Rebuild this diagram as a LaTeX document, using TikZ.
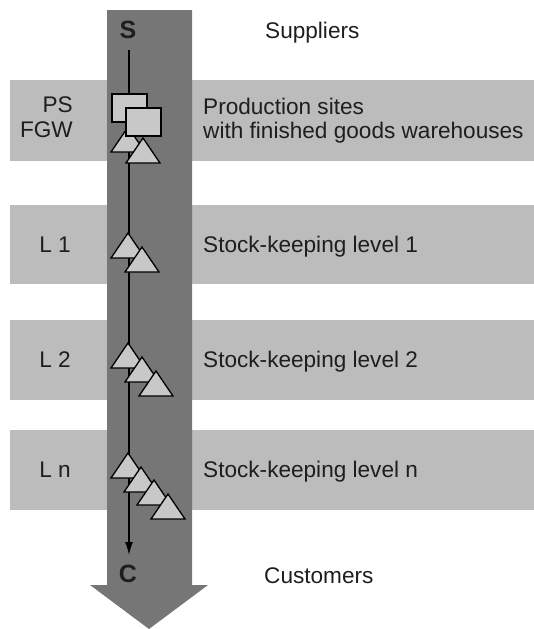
\documentclass[tikz,border=0pt]{standalone}
\usepackage{fontspec}
\setmainfont{Liberation Sans}
\usetikzlibrary{arrows.meta}
\definecolor{bandgray}{RGB}{188,188,188}
\definecolor{flowgray}{RGB}{118,118,118}
\definecolor{itemgray}{RGB}{200,200,200}
\definecolor{inkgray}{RGB}{30,30,30}
\begin{document}
\begin{tikzpicture}[x=1pt,y=-1pt,
  band/.style={fill=bandgray,draw=none},
  txt/.style={font=\fontsize{22.6}{25}\selectfont,text=inkgray,inner sep=0pt},
  lefttxt/.style={txt,anchor=base east},
  righttxt/.style={txt,anchor=base west},
  endtxt/.style={font=\fontsize{25}{28}\selectfont\bfseries,text=inkgray,inner sep=0pt,anchor=base},
  item/.style={fill=itemgray,draw=black,line width=1.3pt,line join=miter},
  tri/.pic={\path[item] (0,0) -- (17,25) -- (-17,25) -- cycle;},
  box/.pic={\path[item] (0,0) rectangle (35,28);}
]
\useasboundingbox (0,0) rectangle (534,629);

% level bands
\path[band] (10,80) rectangle (534,161);
\path[band] (10,205) rectangle (534,284);
\path[band] (10,320) rectangle (534,400);
\path[band] (10,430) rectangle (534,510);

% flow arrow from suppliers to customers
\path[fill=flowgray] (107,10) -- (192,10) -- (192,585) -- (208,585)
  -- (149,629) -- (90,585) -- (107,585) -- cycle;

% source and sink
\node[endtxt] (S) at (128,38) {S};
\node[endtxt] (C) at (128,582) {C};
\coordinate (Sfoot) at (129,50);
\coordinate (Chead) at (129,555);
\draw[line width=1.4pt,-{Latex[length=13pt,width=8pt]}] (Sfoot) -- (Chead);

% production sites with finished goods warehouses
\pic at (112,94) {box};
\pic at (128,127) {tri};
\pic at (126,108) {box};
\pic at (143,138) {tri};

% stock-keeping level 1
\pic at (128,233) {tri};
\pic at (142,247) {tri};

% stock-keeping level 2
\pic at (128,343) {tri};
\pic at (142,357) {tri};
\pic at (156,371) {tri};

% stock-keeping level n
\pic at (128,453) {tri};
\pic at (141,467) {tri};
\pic at (154,480) {tri};
\pic at (168,494) {tri};

% labels
\node[righttxt] (sup) at (265,38) {Suppliers};
\node[righttxt] (cus) at (264,583) {Customers};

\node[lefttxt] (ps) at (73,112) {PS};
\node[lefttxt] (fgw) at (73,137) {FGW};
\node[righttxt] (ps1) at (203,114) {Production sites};
\node[righttxt] (ps2) at (203,138) {with finished goods warehouses};

\node[lefttxt] (l1) at (71,252) {L 1};
\node[righttxt] (t1) at (203,252) {Stock-keeping level 1};

\node[lefttxt] (l2) at (71,367) {L 2};
\node[righttxt] (t2) at (203,367) {Stock-keeping level 2};

\node[lefttxt] (ln) at (71,477) {L n};
\node[righttxt] (tn) at (203,477) {Stock-keeping level n};
\end{tikzpicture}
\end{document}
